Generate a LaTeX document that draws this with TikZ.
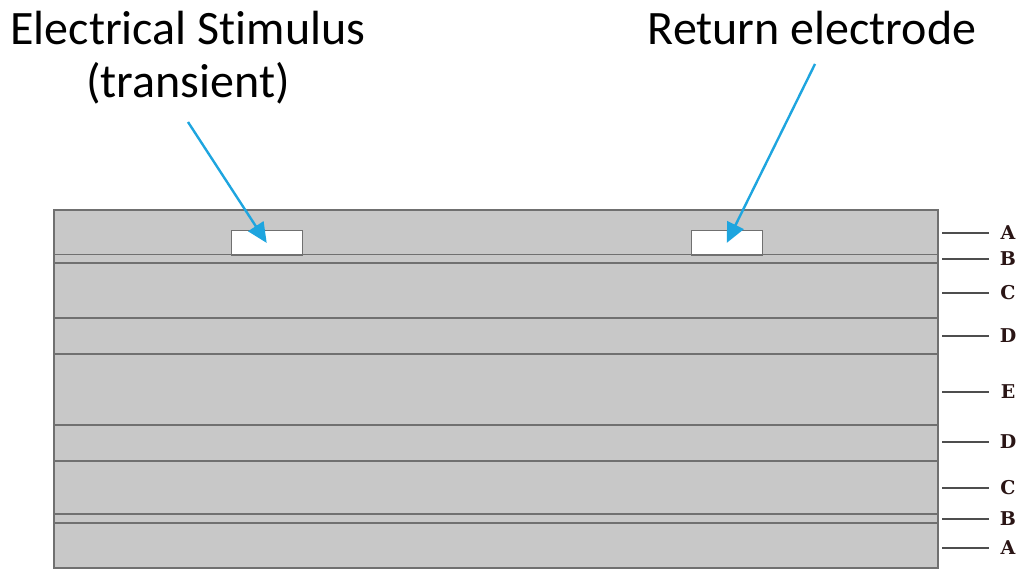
\documentclass[tikz,border=0pt]{standalone}
\usepackage{fontspec}
\setmainfont[Ligatures=NoCommon]{Carlito}
\newfontfamily\legfont{DejaVu Serif}
\usetikzlibrary{arrows.meta}
\definecolor{layergray}{HTML}{C8C8C8}
\definecolor{edgegray}{HTML}{707070}
\definecolor{arrowblue}{HTML}{1EA5DF}
\definecolor{legcol}{HTML}{2A1515}
\tikzset{
  layer/.style={draw=edgegray, line width=1.4pt},
  electrode/.style={draw=edgegray, fill=white, line width=1.4pt, rectangle, inner sep=0pt},
  bigtext/.style={font=\fontsize{48}{56}\selectfont, text=black, inner sep=0pt},
  pointer/.style={draw=arrowblue, line width=2.4pt, -{Triangle[length=20pt,width=18pt]}},
  legline/.style={draw=edgegray!70!black, line width=1.6pt},
  leglabel/.style={font=\legfont\bfseries\fontsize{19}{19}\selectfont, text=legcol, inner sep=0pt}
}
\begin{document}
\begin{tikzpicture}[x=1pt,y=-1pt]
\useasboundingbox (0,0) rectangle (1023,569);
% body
\fill[layergray] (54,210) rectangle (938,568);
\draw[layer] (54,210) rectangle (938,568);
\foreach \yy in {254.5,263,318,354,425,461,514,523}
  \draw[layer] (54,\yy) -- (938,\yy);
% electrodes
\node[electrode, minimum width=71pt, minimum height=24.5pt, anchor=north west] (stim) at (230.5,230) {};
\node[electrode, minimum width=71pt, minimum height=24.5pt, anchor=north west] (ret) at (690.5,230) {};
% labels
\node[bigtext, anchor=base] (stimlabel) at (188,45) {Electrical Stimulus};
\node[bigtext, anchor=base] (stimlabel2) at (188,98) {(transient)};
\node[bigtext, anchor=base] (retlabel) at (812,45) {Return electrode};
\coordinate (s0) at (188,122);
\coordinate (r0) at (815,64);
\draw[pointer] (s0) -- (stim.center);
\draw[pointer] (r0) -- (ret.center);
% legend
\foreach \yy/\lab/\nm in {233/A/la1,259/B/lb1,293/C/lc1,336/D/ld1,392/E/le,442/D/ld2,488/C/lc2,519/B/lb2,548/A/la2}{
  \coordinate (\nm s) at (942,\yy);
  \node[leglabel, anchor=center] (\nm) at (1008,\yy) {\lab};
  \draw[legline] (\nm s) -- ++(47,0);
}
\end{tikzpicture}
\end{document}
